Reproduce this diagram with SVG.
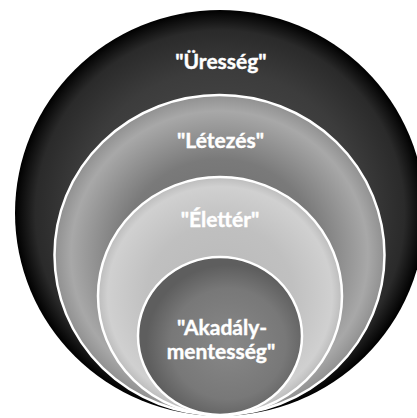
<svg xmlns="http://www.w3.org/2000/svg" width="417" height="418" viewBox="0 0 417 418">
<defs>
<radialGradient id="g1" cx="50%" cy="50%" r="50%">
<stop offset="0" stop-color="#555"/>
<stop offset="0.7" stop-color="#3c3c3c"/>
<stop offset="0.9" stop-color="#2a2a2a"/>
<stop offset="1" stop-color="#000"/>
</radialGradient>
<radialGradient id="g2" cx="50%" cy="50%" r="50%">
<stop offset="0" stop-color="#666"/>
<stop offset="0.6" stop-color="#7a7a7a"/>
<stop offset="0.9" stop-color="#a8a8a8"/>
<stop offset="1" stop-color="#909090"/>
</radialGradient>
<radialGradient id="g3" cx="50%" cy="50%" r="50%">
<stop offset="0" stop-color="#b8b8b8"/>
<stop offset="0.6" stop-color="#c0c0c0"/>
<stop offset="0.92" stop-color="#d0d0d0"/>
<stop offset="1" stop-color="#bcbcbc"/>
</radialGradient>
<radialGradient id="g4" cx="55%" cy="55%" r="50%">
<stop offset="0" stop-color="#888"/>
<stop offset="0.7" stop-color="#787878"/>
<stop offset="1" stop-color="#5e5e5e"/>
</radialGradient>
</defs>
<style>
.ring{stroke:#fff;stroke-width:2.5}
.lbl{font-family:Lato,"Liberation Sans",sans-serif;font-weight:bold;font-size:21px;fill:#fff;stroke:#fff;stroke-width:0.4;text-anchor:middle}
</style>
<g id="node-uresseg">
<ellipse cx="220" cy="213" rx="205" ry="203" fill="url(#g1)"/>
<text class="lbl" x="221" y="69">"Üresség"</text>
</g>
<g id="node-letezes">
<ellipse class="ring" cx="219.5" cy="255" rx="165" ry="160" fill="url(#g2)"/>
<text class="lbl" x="220.5" y="148">"Létezés"</text>
</g>
<g id="node-eletter">
<ellipse class="ring" cx="220" cy="296" rx="122" ry="119" fill="url(#g3)"/>
<text class="lbl" x="220" y="227">"Élettér"</text>
</g>
<g id="node-akadalymentesseg">
<ellipse class="ring" cx="220" cy="336" rx="82" ry="79" fill="url(#g4)"/>
<text class="lbl" x="222" y="335">"Akadály-</text>
<text class="lbl" x="221" y="359">mentesség"</text>
</g>
<g id="connectors"/>
</svg>
